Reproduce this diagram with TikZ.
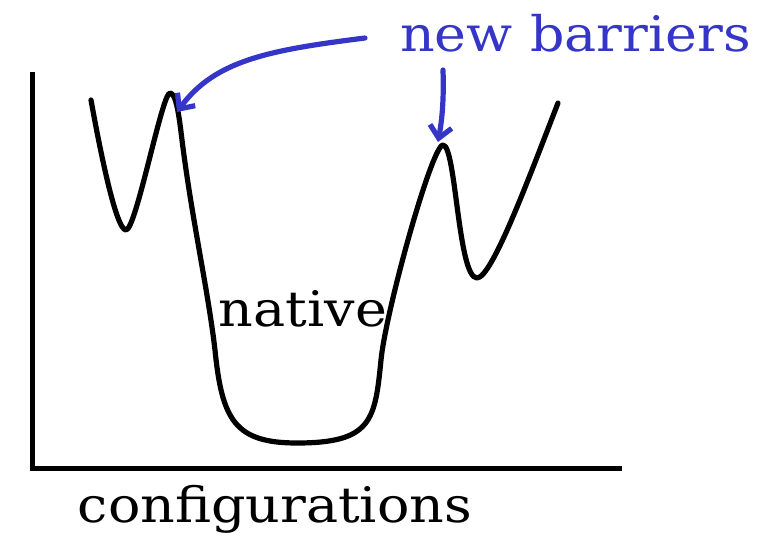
\documentclass[tikz,border=0pt]{standalone}
\usepackage{fontspec}
\setmainfont[FakeStretch=1.1]{DejaVu Serif}
\usetikzlibrary{arrows.meta}
\definecolor{arrblue}{HTML}{3535C8}
\tikzset{
  curveline/.style={line width=5.2pt, line cap=round, line join=round},
  axisline/.style={line width=5pt},
  bluearrow/.style={arrblue, line width=5.2pt, line cap=round, -{Straight Barb[length=12pt,width=22pt,line width=5.2pt]}},
  lbl/.style={inner sep=0pt, font=\fontsize{49}{56}\selectfont}
}
\begin{document}
\begin{tikzpicture}[x=1pt,y=-1pt]
\useasboundingbox (0,0) rectangle (780,546);
\coordinate (ytop) at (32,72);
\coordinate (orig) at (32,468);
\coordinate (xend) at (622,468);
\draw[axisline] (ytop) -- (orig) -- (xend);
\draw[curveline] (91,100)
  .. controls (100,150) and (116,230) .. (126,230)
  .. controls (136,230) and (162,93) .. (170,93)
  .. controls (176,93) and (179,115) .. (182,140)
  .. controls (192,220) and (208,290) .. (215,350)
  .. controls (222,420) and (235,443) .. (297,443)
  .. controls (372,443) and (375,420) .. (381,360)
  .. controls (386,310) and (432,145) .. (443,145)
  .. controls (456,145) and (458,278) .. (477,278)
  .. controls (492,278) and (530,175) .. (558,103);
\node[lbl, arrblue, anchor=base west] (nb) at (400,52) {new barriers};
\node[lbl, anchor=base] (nat) at (303,326) {native};
\node[lbl, anchor=base] (conf) at (275,522) {configurations};
\coordinate (p1) at (177,112);
\coordinate (p2) at (438,142);
\draw[bluearrow] (365,38) .. controls (270,50) and (215,60) .. (p1);
\draw[bluearrow] (443,70) .. controls (444,100) and (442,120) .. (p2);
\end{tikzpicture}
\end{document}
